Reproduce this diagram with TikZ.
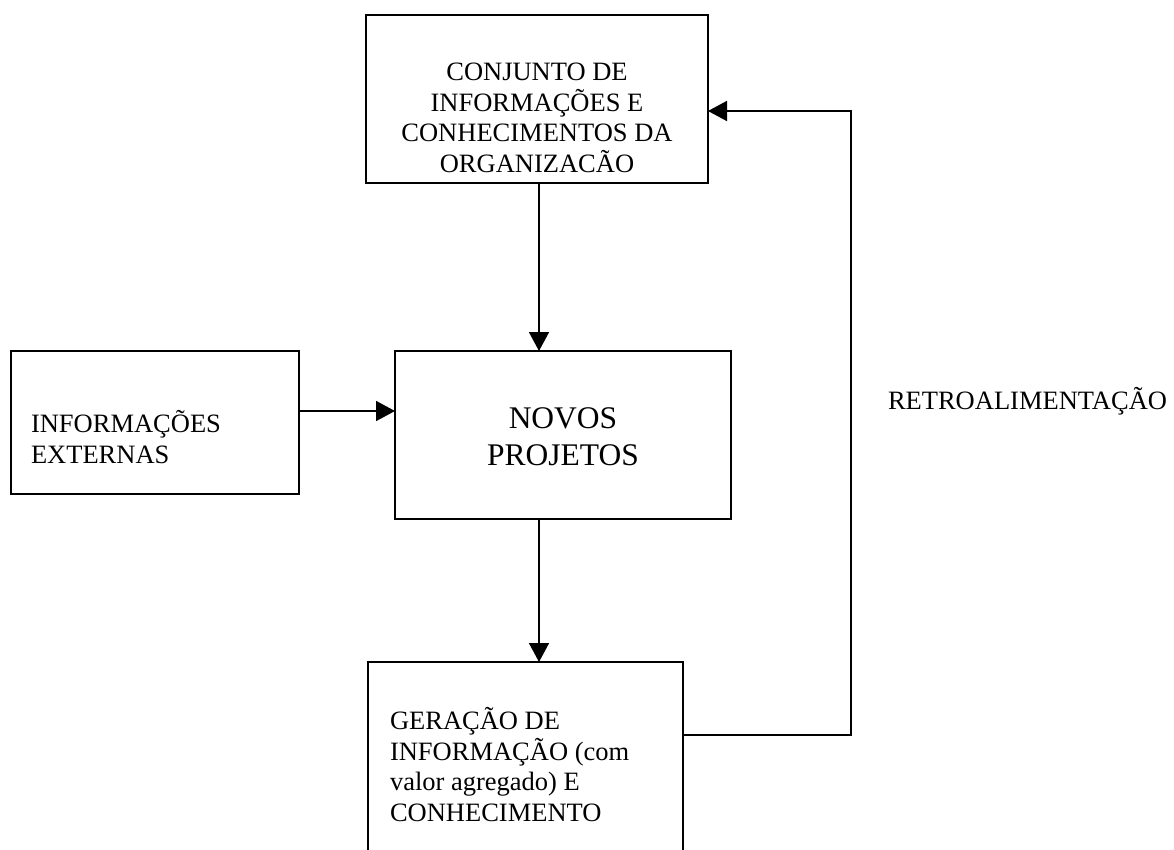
\documentclass[tikz,border=0pt]{standalone}
\usepackage{fontspec}
\setmainfont{Liberation Serif}
\usetikzlibrary{arrows.meta,calc}
\tikzset{
  box/.style={draw=black, line width=1.6pt, rectangle, inner sep=0pt, outer sep=0pt},
  arr/.style={draw=black, line width=1.6pt, -{Triangle[length=19pt,width=20pt]}},
  txt/.style={inner sep=0pt, outer sep=0pt, font=\fontsize{26.5}{30.5}\selectfont},
  bigtxt/.style={inner sep=0pt, outer sep=0pt, font=\fontsize{31.5}{37}\selectfont},
}
\begin{document}
\begin{tikzpicture}[x=1pt,y=-1pt]
\useasboundingbox (0,0) rectangle (1174,849);
\clip (0,0) rectangle (1174,849);
\fill[white] (0,0) rectangle (1174,849);
% boxes
\node[box, minimum width=342pt, minimum height=168pt] (top) at (537,99) {};
\node[box, minimum width=288pt, minimum height=143pt] (ext) at (155,422.5) {};
\node[box, minimum width=336pt, minimum height=168pt] (novos) at (563,435) {};
\node[box, minimum width=315pt, minimum height=208pt] (ger) at (525.5,766) {};
% texts (base anchor = baseline of the last line)
\node[txt, align=center, anchor=base] (toptxt) at (537,172) {CONJUNTO DE\\INFORMAÇÕES E\\CONHECIMENTOS DA\\ORGANIZACÃO};
\node[txt, align=left, anchor=base west] (exttxt) at (31,463) {INFORMAÇÕES\\EXTERNAS};
\node[bigtxt, align=center, anchor=base] (novostxt) at (563,465) {NOVOS\\PROJETOS};
\node[txt, align=left, anchor=base west] (gertxt) at (390,821) {GERAÇÃO DE\\INFORMAÇÃO (com\\valor agregado) E\\CONHECIMENTO};
\node[txt, anchor=base west] (retro) at (888,409) {RETROALIMENTAÇÃO};
% connectors
\coordinate (fbA) at (851,735);
\coordinate (fbB) at (851,111);
\draw[arr] (top.south -| 539,0) -- (novos.north -| 539,0);
\draw[arr] (ext.east |- 0,411) -- (novos.west |- 0,411);
\draw[arr] (novos.south -| 539,0) -- (ger.north -| 539,0);
\draw[arr] (ger.east |- fbA) -- (fbA) -- (fbB) -- (top.east |- fbB);
\end{tikzpicture}
\end{document}
